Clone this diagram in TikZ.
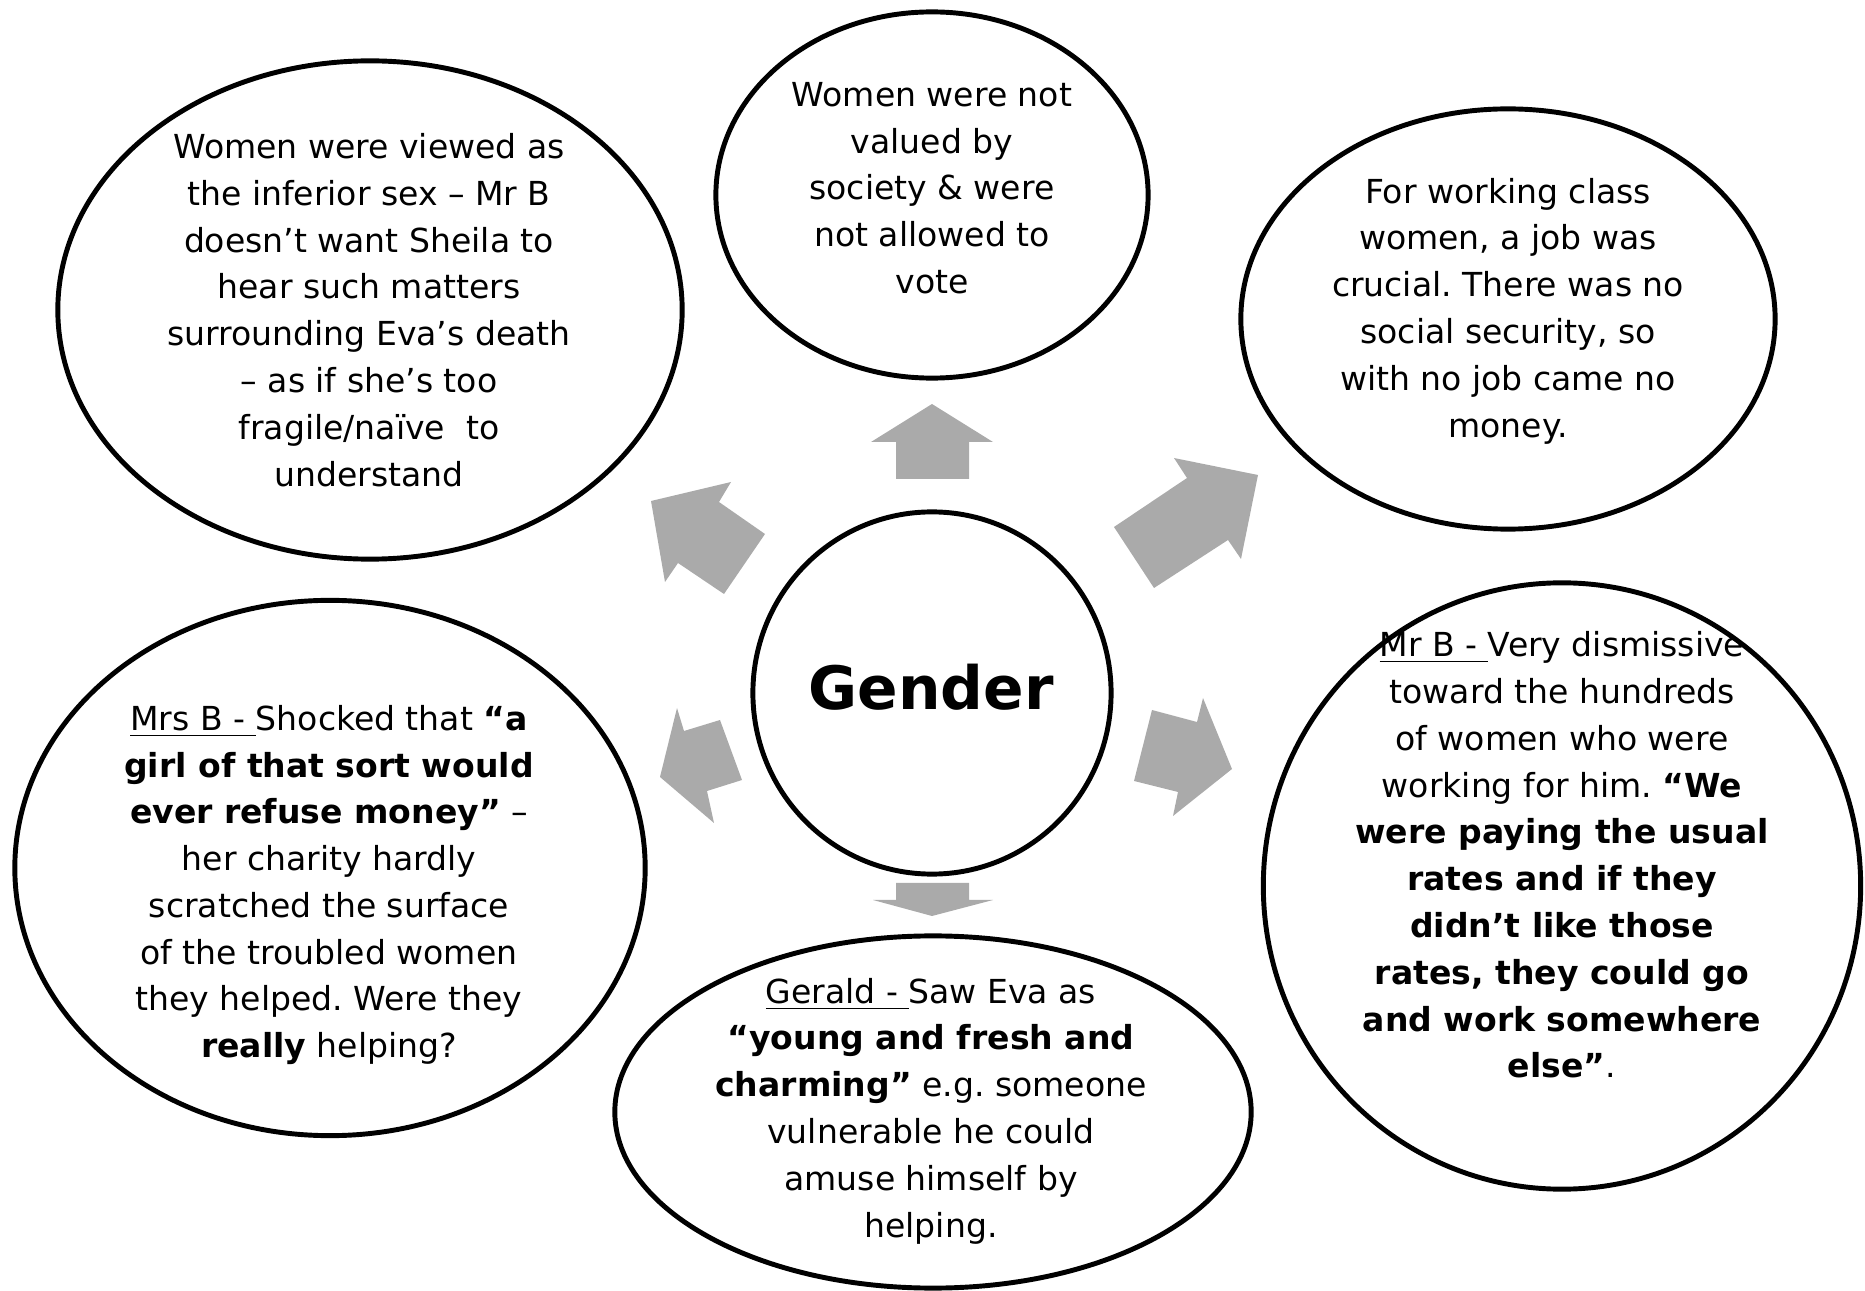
\documentclass[tikz,border=0pt]{standalone}
\usepackage{fontspec}
\setmainfont{DejaVu Sans}
\usetikzlibrary{shapes.geometric}
\definecolor{arrowgrey}{HTML}{AAAAAA}
\frenchspacing

\begin{document}
\begin{tikzpicture}[x=0.01cm, y=-0.01cm,
    bubble/.style={draw, ellipse, line width=1.4pt, inner sep=0pt},
    note/.style={align=center, inner sep=0pt, font=\fontsize{9.4}{13.3}\selectfont},
    block/.style={fill=arrowgrey}]
  \useasboundingbox (0,0) rectangle (1865,1291);

  \node[bubble, minimum width=6.24cm, minimum height=4.98cm] (viewedrim) at (370,310) {};
  \node[note] (viewed) at (369,310) {Women were viewed as\\the inferior sex – Mr B\\doesn’t want Sheila to\\hear such matters\\surrounding Eva’s death\\– as if she’s too\\fragile/naïve\ \ to\\understand};

  \node[bubble, minimum width=4.32cm, minimum height=3.66cm] (voterim) at (932,195) {};
  \node[note] (vote) at (932,188) {Women were not\\valued by\\society \& were\\not allowed to\\vote};

  \node[bubble, minimum width=5.34cm, minimum height=4.20cm] (jobrim) at (1508,319) {};
  \node[note] (job) at (1508,311) {For working class\\women, a job was\\crucial. There was no\\social security, so\\with no job came no\\money.};

  \node[bubble, minimum width=3.58cm, minimum height=3.62cm] (genderrim) at (932,693) {};
  \node[inner sep=0pt, font=\fontsize{17}{20}\selectfont\bfseries] (gender) at (931,687) {Gender};

  \node[bubble, minimum width=5.97cm, minimum height=6.06cm] (mrbrim) at (1562,886) {};
  \node[note] (mrb) at (1562,855) {\underline{Mr B -\ }Very dismissive\\toward the hundreds\\of women who were\\working for him. \textbf{“We}\\\textbf{were paying the usual}\\\textbf{rates and if they}\\\textbf{didn’t like those}\\\textbf{rates, they could go}\\\textbf{and work somewhere}\\\textbf{else”}.};

  \node[bubble, minimum width=6.30cm, minimum height=5.35cm] (mrsbrim) at (330,868) {};
  \node[note] (mrsb) at (329,885) {\underline{Mrs B -\ }Shocked that \textbf{“a}\\\textbf{girl of that sort would}\\\textbf{ever refuse money”} –\\her charity hardly\\scratched the surface\\of the troubled women\\they helped. Were they\\\textbf{really} helping?};

  \node[bubble, minimum width=6.36cm, minimum height=3.52cm] (geraldrim) at (933,1112) {};
  \node[note] (gerald) at (931,1111) {\underline{Gerald -\ }Saw Eva as\\\textbf{“young and fresh and}\\\textbf{charming”} e.g. someone\\vulnerable he could\\amuse himself by\\helping.};

  \fill[block] (932,404) -- (993,442) -- (969,442) -- (969,479) -- (896,479) -- (896,442) -- (871,442) -- cycle;
  \fill[block] (651,501) -- (731,482) -- (719,502) -- (765,534) -- (724,594) -- (678,563) -- (665,582) -- cycle;
  \fill[block] (1258,475) -- (1174,458) -- (1187,478) -- (1114,527) -- (1154,588) -- (1228,540) -- (1241,559) -- cycle;
  \fill[block] (714,823) -- (660,777) -- (677,708) -- (684,731) -- (720,720) -- (742,780) -- (707,791) -- cycle;
  \fill[block] (1232,769) -- (1173,816) -- (1178,792) -- (1134,781) -- (1152,710) -- (1197,722) -- (1203,698) -- cycle;
  \fill[block] (896,883) -- (969,883) -- (969,900) -- (993,900) -- (932,916) -- (873,900) -- (896,900) -- cycle;
\end{tikzpicture}
\end{document}
